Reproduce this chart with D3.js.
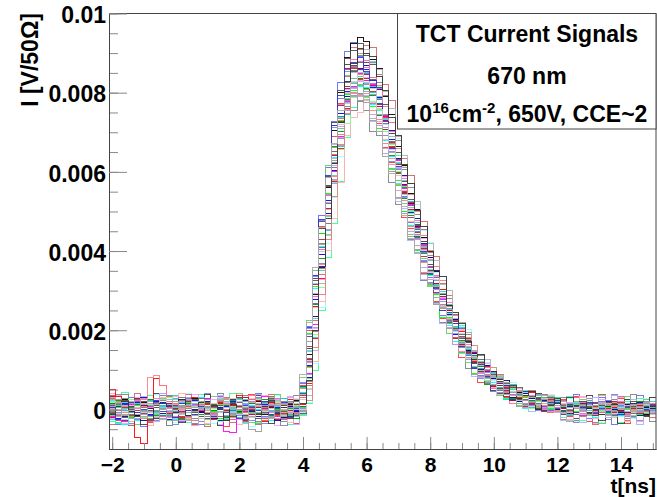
<!DOCTYPE html>
<html>
<head>
<meta charset="utf-8">
<script src="https://cdn.jsdelivr.net/npm/d3@7"></script>
<style>
  body { margin: 0; background: #fff; }
  svg text { font-family: "Liberation Sans", Arial, sans-serif; font-weight: bold; fill: #000; }
</style>
</head>
<body>
<svg id="chart" width="657" height="497"></svg>
<script>
// histogram bins: 0.2 ns wide starting at -2.1 ns; values in units of 1e-5 V
const binStart = -2.1, binWidth = 0.2;

const trace01 = [12,-8,25,3,-15,18,-4,9,-22,6,14,-11,2,27,-6,-18,8,15,-3,-25,11,4,-9,20,-14,7,1,-20,13,22,-5,138,290,445,560,705,800,890,925,940,930,885,860,790,745,665,615,545,505,435,398,352,291,262,240,188,150,146,119,86,93,61,60,30,42,40,17,22,4,28,9,14,-6,10,3,-12,18,0,7,-9,15,4,-3,11,-14,6];
const trace02 = [50,32,8,-12,-70,-85,22,78,60,-10,15,-20,5,30,-8,12,-25,18,-5,10,35,-15,0,22,-30,8,15,-10,25,5,12,65,180,330,440,575,660,760,800,835,825,815,770,740,675,630,565,522,460,425,365,319,303,249,201,196,179,122,118,86,94,43,55,55,29,14,42,23,5,21,9,10,-5,16,2,-10,8,20,-4,6,-15,12,3,-8,14,0];
const trace03 = [-10,20,5,-18,28,-2,-15,10,24,-8,-20,6,18,-12,3,25,-5,-22,9,14,-3,30,-10,-35,5,18,-6,12,-15,8,55,192,310,445,545,662,730,795,805,818,790,765,710,672,608,565,500,462,402,370,316,289,233,233,178,145,146,90,100,89,54,53,25,55,25,33,6,22,28,2,10,8,14,-6,20,-2,9,-12,5,16,-8,3,10,-14,7,-3];
const trace04 = [5,-22,14,-6,9,30,-12,-4,18,-25,2,11,-16,22,-9,0,16,-28,7,20,-11,-3,26,-7,12,-20,4,-13,19,-2,8,112,278,392,528,633,748,803,857,852,858,812,788,722,683,610,568,498,462,398,367,302,285,254,188,182,141,145,103,74,95,54,59,22,38,42,11,16,35,0,16,3,-9,15,-4,11,-16,6,20,-7,2,-12,9,17,-5,4];
const trace05 = [-18,6,-30,12,20,-5,8,-14,25,3,-9,-22,15,7,-3,28,-16,10,-55,-58,18,2,-12,6,32,-4,-18,9,14,-7,3,90,215,360,470,602,690,778,815,848,830,820,770,738,672,628,558,518,455,416,360,333,278,230,227,204,145,134,95,98,54,75,68,37,21,36,23,38,7,-3,25,12,-3,8,-15,5,18,-6,10,0,-11,14,-2,7,-9,11];
const trace06 = [22,-35,-38,9,-28,14,3,-10,6,19,-24,8,-2,-15,30,5,-8,13,-20,-6,24,-13,9,-1,16,-27,11,-8,3,-19,42,150,305,412,540,636,738,782,826,815,812,770,742,680,638,570,528,465,428,370,338,309,260,211,172,173,143,108,114,67,68,75,28,45,27,3,32,21,6,29,0,-4,9,18,-10,3,-20,7,12,-2,-15,5,16,-8,1,10];
const trace07 = [-6,15,28,-12,4,-20,10,-3,22,-16,7,30,-9,-24,12,1,-14,19,5,-10,27,-18,3,-31,8,14,-5,20,-12,6,-2,70,196,355,470,610,710,815,856,895,882,875,825,792,724,680,605,560,492,455,390,349,293,281,240,188,190,135,135,81,86,77,45,62,38,13,35,16,38,7,-3,16,0,-9,12,5,-14,9,22,-6,3,-11,8,14,-4,2];
const trace08 = [30,10,-8,18,12,25,80,85,60,-20,14,3,-26,9,20,-7,-15,12,28,-4,8,-18,35,-9,2,16,-22,10,-6,24,-10,105,258,365,490,588,695,746,798,792,798,755,732,672,635,568,528,462,430,370,342,314,250,227,207,147,147,106,119,87,52,67,43,15,44,31,10,34,10,20,-6,20,5,-12,8,-3,15,-8,2,18,-10,6,-5,12,-16,9];
const trace09 = [-14,8,-3,20,-25,11,-7,16,2,-19,27,-11,6,-4,15,-22,9,-8,19,3,-16,12,-29,7,21,-2,-13,5,17,-9,68,205,335,476,585,712,785,853,866,880,845,822,764,722,652,607,536,496,432,396,340,292,281,223,200,185,127,127,78,94,62,38,67,35,39,14,34,-3,19,22,1,6,15,-7,3,12,-10,20,-2,-14,8,1,11,-6,17,-3];
const trace10 = [18,-12,6,24,-7,-20,13,4,-15,29,-3,10,-24,8,16,-11,2,-30,21,7,-5,14,-18,26,-8,3,19,-14,-1,11,-6,52,190,308,440,538,656,722,788,796,810,778,760,702,668,600,560,494,458,398,366,326,293,229,208,201,143,132,125,72,84,56,69,28,33,40,3,24,25,4,25,-8,10,4,-13,17,2,-6,13,-18,5,9,-2,15,-9,3];
const trace11 = [9,-17,22,-1,-12,16,-26,5,11,-8,20,-14,-3,25,-19,7,12,-5,-21,18,1,-9,14,-24,6,28,-11,-2,15,-16,40,183,325,474,588,724,806,887,906,925,893,872,811,770,698,650,575,531,464,425,365,308,291,265,205,179,174,115,118,84,87,41,53,56,22,34,20,2,34,13,2,13,-4,7,19,-11,0,9,-7,14,-13,4,21,-5,8,-10];
const trace12 = [-20,4,13,-9,27,-14,6,-2,-23,15,9,-6,19,-28,2,14,-10,23,-4,-17,8,30,-12,5,-7,18,-25,9,-3,12,6,126,260,403,508,641,726,810,835,858,835,819,765,730,661,618,547,506,443,407,350,318,255,249,221,164,144,144,96,109,58,65,48,23,44,46,15,31,-3,16,18,2,16,-9,5,11,-3,-14,7,19,-6,0,12,-11,4,8];
const trace13 = [14,-2,-19,8,17,-27,3,21,-10,-4,12,26,-15,0,-8,19,-22,6,10,-13,-1,23,-6,-18,11,4,-29,16,7,-5,-11,80,234,358,496,603,724,790,853,860,869,830,807,745,705,634,590,520,482,418,384,348,294,240,228,168,172,140,100,111,77,56,73,37,20,39,27,0,23,29,0,-5,8,14,-12,3,10,-7,16,-1,-9,13,5,-15,6,2];
const trace14 = [-9,24,-15,5,11,-3,-22,17,8,-13,-28,10,3,-6,21,-17,14,-1,26,-10,5,-19,-50,-55,8,-15,9,-12,20,-7,52,172,315,416,540,628,720,757,794,780,775,729,702,639,601,535,496,436,403,345,318,266,258,205,164,162,131,89,104,67,82,38,46,42,8,24,34,10,2,23,5,11,-6,3,17,-9,6,-2,13,-16,4,10,-7,1,15,-11];
const trace15 = [7,-13,19,-24,2,12,-6,28,-17,4,-9,15,-20,11,-1,24,-12,-5,16,-26,10,-3,20,-14,1,-8,27,-19,6,13,-4,118,285,405,543,652,769,827,883,879,882,838,810,745,702,630,584,514,476,411,378,338,273,269,216,167,164,124,90,105,80,51,67,38,46,8,31,20,1,31,4,9,-11,4,18,-3,-14,12,1,-7,20,-10,5,-2,11,-13];
const trace16 = [-25,11,3,-8,16,-19,22,-4,9,-14,6,18,-27,-2,13,8,-16,25,-9,1,-21,15,4,-11,19,-6,-1,28,-15,7,-3,72,182,318,452,570,664,745,812,840,822,800,785,736,672,620,578,525,458,410,375,314,297,255,207,206,139,146,109,100,94,55,38,64,34,36,6,29,20,1,29,5,-12,9,14,-4,0,17,-10,3,8,-15,11,-6,2,19];
const trace17 = [3,-18,10,21,-7,-14,5,17,-23,12,-1,-10,24,-16,8,2,-20,11,-5,27,-13,6,-8,15,-3,-22,13,-9,18,1,-12,35,150,318,441,578,688,797,852,900,908,880,858,803,760,690,641,570,526,461,420,375,316,301,229,220,194,146,114,127,86,85,40,51,55,26,36,9,36,11,-3,14,-7,2,10,-13,6,15,-3,-9,12,0,-16,7,11,-5];
const trace18 = [16,-3,-21,7,13,-10,25,-15,1,20,-8,-26,11,5,-13,17,-4,9,-19,23,-7,0,14,-11,26,-16,3,-5,10,-22,8,108,266,380,505,620,703,784,812,833,810,792,743,706,642,598,532,490,433,395,340,325,260,219,210,174,127,137,108,62,82,54,66,28,16,35,22,30,6,-7,17,-6,11,3,-14,8,16,-2,-9,13,4,-12,7,19,-4,1];
const trace19 = [-11,22,6,-16,-4,19,-27,9,14,-6,3,-18,21,-9,12,-24,7,16,-2,-13,29,-5,-17,10,2,20,-14,6,-23,12,36,160,315,430,562,664,768,816,860,852,847,802,770,708,664,596,550,485,446,386,352,295,284,238,180,168,157,105,110,102,61,60,33,58,26,8,32,24,-6,26,9,8,-10,15,-3,6,-15,10,3,-8,17,-12,2,9,-5,13];
const trace20 = [20,-9,-2,15,-24,8,11,-13,26,-5,-17,4,13,-29,18,-1,-8,22,-15,6,9,-20,3,27,-10,-4,16,-18,5,-12,2,88,208,350,455,580,668,755,790,820,804,795,746,713,650,609,542,500,441,404,349,326,272,259,192,169,156,148,94,85,90,43,57,43,46,14,17,38,4,17,-7,-3,12,-9,7,16,-6,1,-14,10,5,-8,14,-1,-11,8];
const trace21 = [-7,13,-20,4,25,-11,-3,18,-16,9,1,-24,14,-8,27,-12,5,-19,11,-2,17,-26,8,12,-9,21,-4,-15,3,19,-10,128,268,410,520,652,741,825,853,876,852,834,782,742,676,630,560,516,455,414,358,315,292,224,225,184,140,136,126,72,75,75,40,25,55,24,32,7,21,29,-9,10,-2,-13,8,15,-7,4,11,-16,3,9,-10,16,-4,0];
const trace22 = [12,-19,8,3,-13,27,-6,-21,15,2,-10,19,-28,6,11,-3,-16,24,-8,13,-1,-23,18,-7,9,-14,22,0,-11,16,37,146,293,399,523,617,714,758,800,790,788,745,717,658,618,553,512,450,415,358,328,302,250,207,164,171,127,123,80,83,84,37,50,34,41,4,35,8,16,28,-3,-9,14,2,-6,11,-12,18,-4,7,-1,-15,9,4,12,-7];
const trace23 = [-15,6,17,-22,9,-5,21,-12,-1,26,-18,7,-9,14,3,-25,10,-6,19,-14,5,24,-11,-3,15,-20,8,13,-7,-17,4,78,230,351,486,592,710,775,836,842,850,815,790,732,690,623,577,510,471,410,375,315,293,264,209,167,176,131,122,77,81,82,41,51,15,42,19,35,4,14,20,7,-9,12,1,-14,5,13,-6,9,-11,16,-3,-8,10,4];
const trace24 = [26,-4,-14,11,5,-22,16,-9,2,20,-17,8,-3,-27,13,6,-11,22,-1,-16,10,-7,25,-13,4,-19,15,-2,9,-8,-5,22,156,290,430,538,666,748,824,846,864,838,818,764,725,658,612,543,501,439,402,360,325,260,238,182,181,162,117,89,106,68,42,59,44,23,44,7,25,-7,22,12,-5,6,-11,17,2,-8,10,-3,14,-13,1,8,-6,15];
const trace25 = [4,-26,13,18,-9,1,-15,23,-6,10,-20,16,-2,-12,8,25,-17,3,-7,14,-24,11,6,-3,20,-13,-8,17,-21,2,58,208,339,480,591,717,792,861,875,888,854,830,772,728,659,613,542,500,437,398,343,305,250,244,218,159,147,104,113,84,47,65,61,25,27,45,13,27,-4,17,23,-2,13,-8,6,18,-10,3,-5,11,-14,7,15,-9,0,10];
const trace26 = [19,-11,-26,9,4,15,-8,-18,24,-3,12,-14,6,20,-23,-1,16,-9,5,28,-13,7,-20,11,-5,3,18,-16,-6,14,0,124,258,398,504,633,719,800,827,850,826,810,758,720,656,612,543,500,440,402,347,328,261,238,198,192,128,134,111,73,75,37,62,45,23,43,7,20,27,7,-8,15,-8,4,-13,9,2,-4,16,-10,6,11,-7,-1,13,-12];
const trace27 = [-13,8,20,-5,-18,11,2,-22,14,7,-9,25,-16,-4,17,-11,9,1,-27,13,-6,19,-2,-14,8,23,-10,4,-19,6,15,72,200,362,482,622,725,828,873,912,900,892,842,806,738,691,618,570,503,462,399,350,336,262,246,217,171,127,139,97,95,75,40,60,27,34,44,1,25,10,27,4,-11,10,16,-7,1,-13,8,12,-4,-9,14,3,-15,7];
const trace28 = [8,17,-12,-3,22,-19,6,13,-25,-8,19,-1,10,-15,4,26,-20,-6,14,3,-11,21,-17,8,-4,12,-24,16,-9,5,88,220,358,460,585,671,754,785,813,795,782,735,702,639,597,532,491,431,396,341,312,310,254,252,201,161,160,130,83,101,64,80,38,36,49,10,31,12,25,-6,11,-10,6,15,-3,-12,9,4,-16,11,2,-6,13,-8,17,-1];
const trace29 = [35,-28,12,-40,22,5,-33,18,41,-12,-25,30,8,-38,15,27,-19,3,-44,26,10,-31,38,-7,-22,33,-15,6,29,-36,60,200,338,462,585,690,772,859,863,835,832,800,722,662,623,577,484,456,415,344,340,272,230,223,182,132,136,119,68,80,57,68,29,26,43,8,20,36,-5,18,0,25,-18,32,-6,-30,14,38,-21,4,27,-35,9,19,-12,30];
const trace30 = [-30,18,42,-8,-26,11,34,-19,2,-41,24,15,-33,9,37,-14,-3,28,-22,40,-11,-36,20,6,-27,31,-9,13,-38,22,-16,15,98,251,383,470,575,687,763,779,780,795,756,701,681,641,564,502,472,435,354,335,304,241,221,212,155,144,99,110,84,47,69,53,26,47,19,6,36,15,-5,-20,33,4,-28,17,-9,36,-15,8,-32,21,-4,27,-18,11];
const trace31 = [21,-37,8,30,-15,-42,19,4,-24,36,-6,-31,27,12,-39,16,-2,33,-20,7,25,-34,-10,39,-18,3,28,-26,14,-5,66,210,352,490,612,728,826,905,928,892,849,834,787,713,640,612,537,471,450,374,333,309,238,226,199,143,136,132,86,65,79,47,59,14,38,26,6,38,3,16,-8,14,-29,37,-3,-22,18,31,-13,-38,9,24,-17,35,-8,1];
const trace32 = [40,-22,-35,14,29,-8,-41,23,6,-17,32,-29,11,38,-13,-4,25,-37,18,2,-26,35,-11,-33,21,9,-40,16,30,-19,4,51,205,329,428,574,663,772,792,831,838,793,790,739,660,632,589,506,463,432,359,348,282,236,228,188,172,115,119,115,64,60,69,34,47,9,31,22,1,27,6,19,-25,7,33,-12,-36,24,2,-20,29,-8,15,-31,11,-2];
const trace33 = [-18,33,-5,-39,20,12,-27,37,-14,3,-32,26,40,-9,-23,15,-36,7,31,-16,-2,24,-43,19,8,-29,36,-12,-1,27,-7,18,115,257,418,534,638,776,824,855,894,873,816,805,759,684,614,590,518,453,421,346,336,300,239,209,202,139,135,119,73,76,51,68,48,15,43,16,5,37,11,-14,27,-30,10,21,-6,-33,16,35,-19,4,-24,13,28,-9];
const trace34 = [28,-15,37,-31,4,19,-24,-6,35,-40,13,22,-18,-35,30,1,-12,39,-27,10,-21,34,-3,-38,17,25,-10,-30,8,36,56,188,286,419,542,612,695,764,756,778,754,701,691,647,574,518,500,428,393,326,318,269,219,222,164,157,104,108,103,66,46,71,32,35,41,5,28,3,30,8,-6,31,-4,-27,15,22,-34,8,-13,26,-1,-23,37,-9,6,-30];
const trace35 = [-37,9,26,-20,41,-13,-30,16,3,32,-25,-8,38,-16,21,-42,11,-1,29,-34,6,24,-19,13,-28,37,-5,-22,18,-11,30,61,225,342,505,643,734,840,915,908,919,914,846,821,779,689,634,590,505,474,396,386,317,288,224,219,193,137,126,84,95,89,44,45,52,24,48,6,21,24,-8,-26,12,30,-17,5,-38,21,9,-14,33,-29,2,17,-6,-21];
const trace36 = [14,-33,22,7,-39,31,-18,-4,27,-29,36,-11,-26,19,5,-37,33,-8,12,-21,40,-15,-32,23,1,-24,38,-6,-17,11,80,225,352,477,615,725,768,843,865,840,807,801,726,681,607,579,519,441,415,382,311,282,262,192,192,160,118,129,82,71,80,35,45,45,10,30,33,5,8,32,-8,8,-31,19,26,-15,3,-35,22,-9,14,32,-20,-3,25,-12];
const trace37 = [-4,38,-21,-36,12,27,-9,-28,34,15,-39,6,23,-14,-31,40,-7,18,-25,3,31,-17,-2,29,-35,10,21,-40,16,-12,-3,122,278,368,489,623,685,780,811,797,821,772,758,692,627,606,538,464,443,376,321,316,266,217,218,163,152,104,117,89,58,75,28,45,43,22,6,38,6,14,23,23,-16,-33,10,28,-7,14,-25,37,-2,-18,6,-29,20,12];
const trace38 = [33,-12,-27,20,9,-38,25,41,-19,-6,14,-33,30,-2,-22,37,11,-40,5,26,-14,-29,19,34,-8,-36,2,28,-23,15,42,155,331,457,565,717,785,870,868,898,876,830,814,729,696,622,545,526,466,396,383,313,260,254,210,162,168,118,111,101,52,70,46,24,49,31,10,39,6,7,25,-13,29,-22,4,35,-10,-28,17,3,-36,24,11,-7,-19,31];
const trace39 = [-22,35,10,-30,-9,26,-41,17,31,-13,-2,39,-24,8,21,-35,-6,30,-17,13,-38,4,27,-11,36,-28,-1,20,-33,9,24,36,120,272,401,482,574,692,738,750,781,776,727,681,668,592,553,475,460,404,345,337,263,249,210,200,142,122,126,99,56,75,53,28,52,24,33,1,20,35,4,15,-28,6,30,-11,-24,19,-3,34,-16,-30,8,21,-9,-1];
const trace40 = [7,24,-37,16,-19,33,-8,-30,40,12,-25,-3,29,-41,18,6,-16,35,-28,-9,21,-34,11,38,-20,-5,26,-13,32,-39,55,190,318,445,560,668,748,809,810,827,792,728,718,646,602,524,507,427,395,328,317,268,217,219,163,140,138,82,97,77,47,65,32,15,36,25,-5,29,9,19,-3,-27,18,5,-33,12,29,-6,-21,36,-15,1,24,-37,10,-4];

const traces = [trace29, trace30, trace31, trace32, trace33, trace34, trace35, trace36, trace37, trace38, trace39, trace40,
  trace01, trace02, trace03, trace04, trace05, trace06, trace07, trace08, trace09, trace10,
  trace11, trace12, trace13, trace14, trace15, trace16, trace17, trace18, trace19, trace20,
  trace21, trace22, trace23, trace24, trace25, trace26, trace27, trace28];

const traceColors = ["#ff3333", "#33ff99", "#6666ff", "#ff99ff", "#99ffff", "#808080", "#cc6666",
  "#66cc66", "#8080c0", "#404040", "#ffb0b0", "#b0b0ff",
  "#000000", "#ff0000", "#00ff00", "#0000ff", "#ff00ff", "#00ffff", "#7f7f7f",
  "#ff7f7f", "#7f7fff", "#7fff7f", "#4c4c4c", "#cc0033", "#000099", "#999999", "#ff66cc", "#33cccc",
  "#b2b2b2", "#009900", "#993333", "#9999cc", "#666666", "#cc99cc", "#66ccaa", "#e08080", "#3333cc",
  "#cccccc", "#333333", "#aaaaaa"];

const xTicks = [-2, 0, 2, 4, 6, 8, 10, 12, 14];
const xMinor = d3.range(-2, 15.01, 0.5);
const yTicks = [0, 0.002, 0.004, 0.006, 0.008, 0.01];
const yMinor = d3.range(-0.0005, 0.01001, 0.0005);

const L = 109, R = 656, T = 13.5, B = 449;

var svg = d3.select("#chart");

var x = d3.scaleLinear().domain([-2.1, 15.1]).range([L, R]);
var y = d3.scaleLinear().domain([-0.001, 0.01]).range([B, T]);

svg.append("rect").attr("width", 657).attr("height", 497).attr("fill", "#fff");

svg.append("clipPath").attr("id", "plotclip")
  .append("rect").attr("x", L).attr("y", T).attr("width", R - L).attr("height", B - T);

// step histograms
var line = d3.line()
  .x(d => x(d[0]))
  .y(d => y(d[1] * 1e-5))
  .curve(d3.curveStepAfter);

var toPoints = vals => {
  var pts = vals.map((v, i) => [binStart + i * binWidth, v]);
  pts.push([binStart + vals.length * binWidth, vals[vals.length - 1]]);
  return pts;
}

svg.append("g").attr("clip-path", "url(#plotclip)")
  .selectAll("path.trace")
  .data(traces)
  .enter()
  .append("path")
  .attr("class", "trace")
  .attr("d", d => line(toPoints(d)))
  .attr("fill", "none")
  .attr("stroke", (d, i) => traceColors[i % traceColors.length])
  .attr("stroke-width", 1)
  .attr("stroke-opacity", 0.9)
  .attr("shape-rendering", "crispEdges");

// frame
svg.append("path")
  .attr("d", `M${L},${T}H${R}V${B}`)
  .attr("fill", "none").attr("stroke", "#444").attr("stroke-width", 1);

// y axis
var fmtY = d => d === 0 ? "0" : String(+d.toFixed(3));
svg.append("g").attr("transform", `translate(${L},0)`)
  .call(d3.axisLeft(y).tickValues(yMinor).tickSizeInner(-9).tickSizeOuter(0).tickFormat(""));
var yAxis = svg.append("g").attr("transform", `translate(${L},0)`)
  .call(d3.axisLeft(y).tickValues(yTicks).tickSizeInner(-18).tickSizeOuter(0).tickPadding(3).tickFormat(fmtY));
yAxis.selectAll("text").attr("font-size", 23).attr("dy", "0.4em");

// x axis
svg.append("g").attr("transform", `translate(0,${B})`)
  .call(d3.axisBottom(x).tickValues(xMinor).tickSizeInner(-6).tickSizeOuter(0).tickFormat(""));
var xAxis = svg.append("g").attr("transform", `translate(0,${B})`)
  .call(d3.axisBottom(x).tickValues(xTicks).tickSizeInner(-12).tickSizeOuter(0).tickPadding(8).tickFormat(d3.format("d")));
xAxis.selectAll("text").attr("font-size", 21);

svg.selectAll(".tick line").attr("stroke", "#888");
svg.selectAll(".domain").attr("stroke", "#444");
svg.selectAll(".tick text").attr("fill", "#000").attr("font-family", null);

// axis titles
svg.append("text")
  .attr("transform", "translate(38,13) rotate(-90)")
  .attr("text-anchor", "end")
  .attr("font-size", 23)
  .text("I [V/50Ω]");

svg.append("text")
  .attr("x", 656).attr("y", 493)
  .attr("text-anchor", "end")
  .attr("font-size", 21)
  .text("t[ns]");

// legend box
svg.append("rect")
  .attr("x", 397.5).attr("y", T).attr("width", R - 397.5).attr("height", 129 - T)
  .attr("fill", "#fff").attr("stroke", "#444").attr("stroke-width", 1);

var cx = 527;
svg.append("text").attr("x", cx).attr("y", 42).attr("text-anchor", "middle")
  .attr("font-size", 23).text("TCT Current Signals");
svg.append("text").attr("x", cx).attr("y", 83.5).attr("text-anchor", "middle")
  .attr("font-size", 23).text("670 nm");

var t3 = svg.append("text").attr("x", cx).attr("y", 122).attr("text-anchor", "middle").attr("font-size", 23);
t3.append("tspan").text("10");
t3.append("tspan").attr("dy", -9).attr("font-size", 15).text("16");
t3.append("tspan").attr("dy", 9).text("cm");
t3.append("tspan").attr("dy", -9).attr("font-size", 15).text("-2");
t3.append("tspan").attr("dy", 9).text(", 650V, CCE~2");
</script>
</body>
</html>
